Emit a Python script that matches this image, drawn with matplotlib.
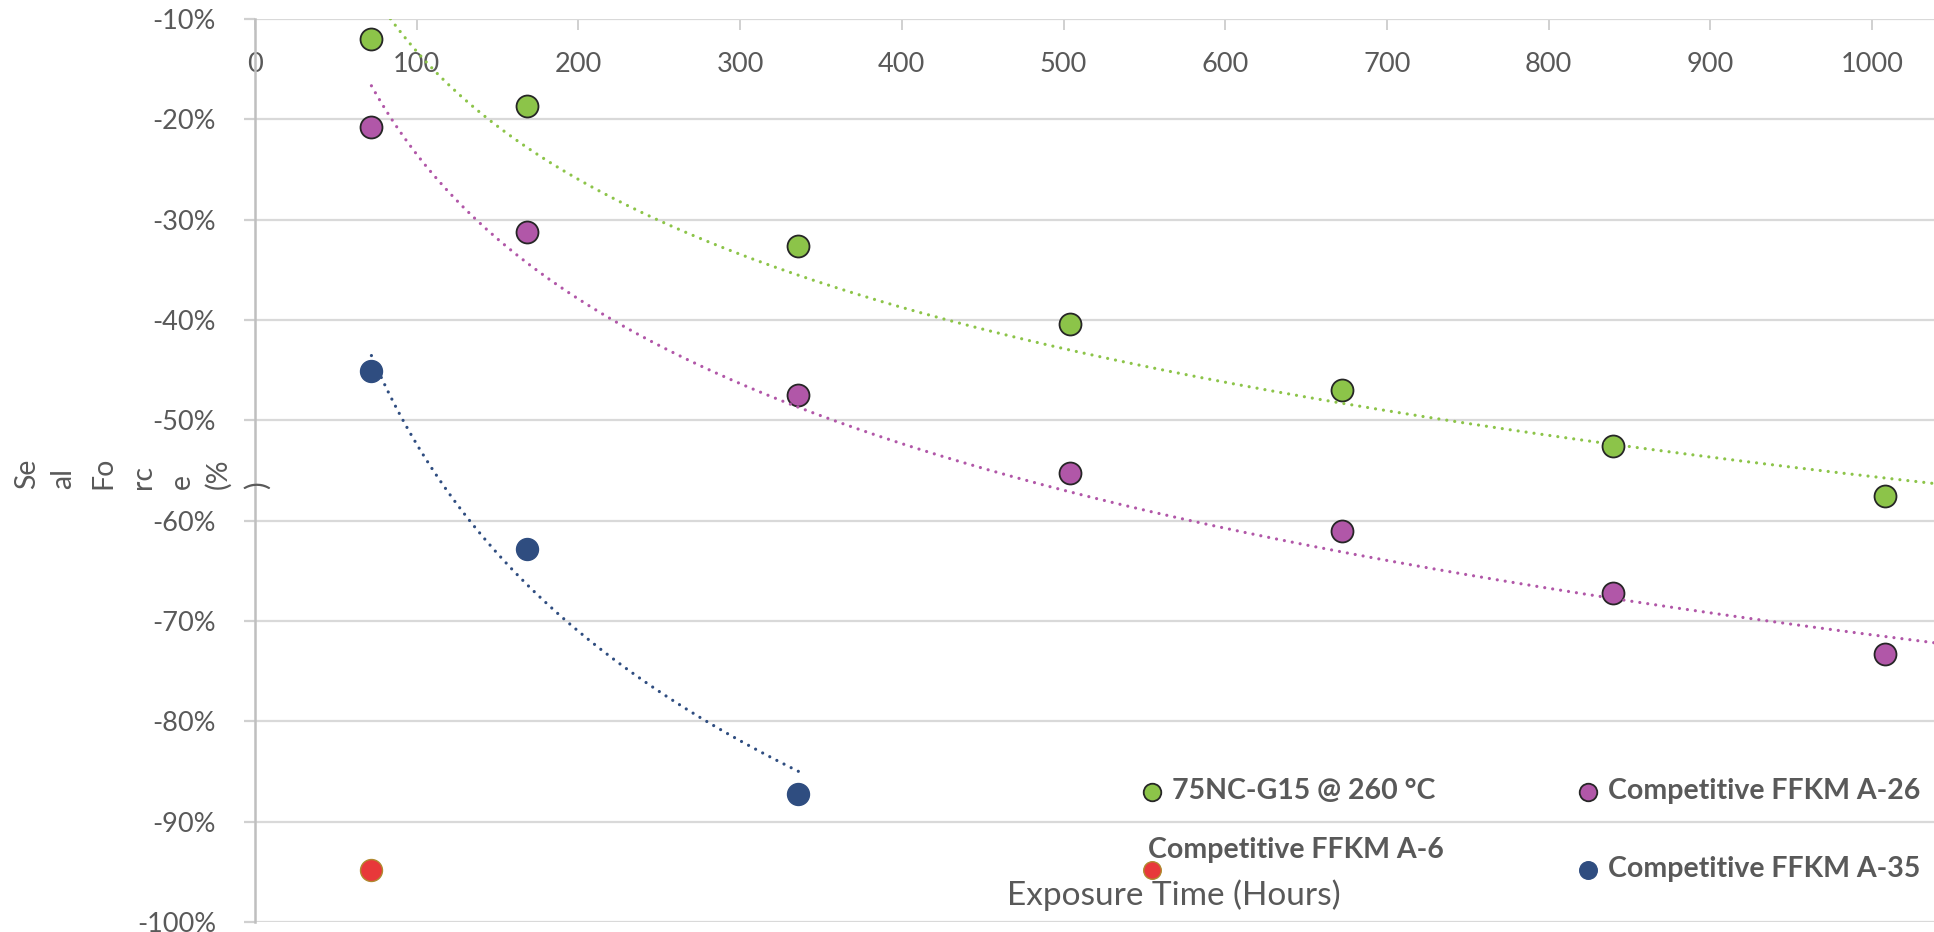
import matplotlib
matplotlib.use("Agg")
import matplotlib.pyplot as plt
import numpy as np
from matplotlib.ticker import FuncFormatter, MultipleLocator

plt.rcParams['font.family'] = ['Lato', 'DejaVu Sans']

# exposure time (hours) and seal force change (%)
hours = [72, 168, 336, 504, 672, 840, 1008]
g15 = [-12.0, -18.7, -32.6, -40.4, -47.0, -52.6, -57.5]
a26 = [-20.8, -31.2, -47.5, -55.2, -61.0, -67.2, -73.3]
hours_a35 = [72, 168, 336]
a35 = [-45.1, -62.8, -87.2]
hours_a6 = [72]
a6 = [-94.8]

# log trendlines y = a*ln(x) + b
trend_g15 = (-18.4, 71.5)
trend_a26 = (-20.8, 72.3)
trend_a35 = (-26.9, 71.5)

labels = ["75NC-G15 @ 260 °C", "Competitive FFKM A-6",
          "Competitive FFKM A-26", "Competitive FFKM A-35"]

GREEN = '#8cc449'
PURPLE = '#b157a8'
BLUE = '#2f4d80'
RED = '#e8383a'
TXT = '#595959'

W, H = 1934, 932
fig = plt.figure(figsize=(W / 100, H / 100), dpi=100)
x0, x1 = 255, 1934
y_top, y_bot = 19, 922
ax = fig.add_axes([x0 / W, (H - y_bot) / H, (x1 - x0) / W, (y_bot - y_top) / H])

xmax = (x1 - x0) / 1.617
ax.set_xlim(0, xmax)
ax.set_ylim(-100, -10)


def trend(coef, x_start, x_end):
    xs = np.linspace(x_start, x_end, 300)
    return xs, coef[0] * np.log(xs) + coef[1]


dot = dict(lw=2.3, linestyle=(0, (0.01, 2.5)), dash_capstyle='round', zorder=4)

ms = 250
h1 = ax.scatter(hours, g15, s=ms, c=GREEN, edgecolors='#262626', linewidths=1.3, zorder=3)
h3 = ax.scatter(hours, a26, s=ms, c=PURPLE, edgecolors='#262626', linewidths=1.3, zorder=3)
h4 = ax.scatter(hours_a35, a35, s=ms, c=BLUE, edgecolors=BLUE, linewidths=1, zorder=3)
h2 = ax.scatter(hours_a6, a6, s=ms, c=RED, edgecolors='#b08a30', linewidths=1, zorder=3)

xs, ys = trend(trend_g15, hours[0], xmax)
ax.plot(xs, ys, color=GREEN, **dot)
xs, ys = trend(trend_a26, hours[0], xmax)
ax.plot(xs, ys, color=PURPLE, **dot)
xs, ys = trend(trend_a35, hours_a35[0], hours_a35[-1])
ax.plot(xs, ys, color=BLUE, **dot)

# axes styling
ax.yaxis.set_major_locator(MultipleLocator(10))
ax.xaxis.set_major_locator(MultipleLocator(100))
ax.yaxis.set_major_formatter(FuncFormatter(lambda v, p: f"{v:.0f}%"))
ax.grid(axis='y', color='#d9d9d9', lw=1.6, zorder=0)
ax.set_axisbelow(True)
for s in ['right', 'bottom', 'top']:
    ax.spines[s].set_visible(False)
ax.spines['left'].set_color('#bfbfbf')
ax.spines['left'].set_linewidth(1.8)
ax.tick_params(axis='y', length=8, width=1.6, color='#d0d0d0', pad=20,
               labelsize=19.5, labelcolor=TXT)
ax.tick_params(axis='x', top=True, bottom=False, labeltop=True, labelbottom=False,
               direction='in', length=8, width=1.4, color='#d0d0d0', pad=-42,
               labelsize=19.5, labelcolor=TXT)

ax.set_xlabel("Exposure Time (Hours)", fontsize=24, color=TXT)
ax.xaxis.set_label_coords((1174 - x0) / (x1 - x0), (y_bot - 895) / (y_bot - y_top))
ax.xaxis.label.set_va('center')

# y label broken into narrow wrapped pieces
pieces = ["Se", "al", "Fo", "rc", "e", "(%", ")"]
px = [27, 63, 103, 143, 182, 218, 257]
for t, xp in zip(pieces, px):
    fig.text(xp / W, (H - 489) / H, t, rotation=90, ha='center', va='bottom',
             fontsize=20.5, color=TXT)

# legend: 2 x 2 grid
leg = ax.legend([h1, h2, h3, h4], labels, ncol=2, loc='lower left',
                bbox_to_anchor=((1116 - x0) / (x1 - x0), (y_bot - 908) / (y_bot - y_top)),
                frameon=False, markerscale=0.8, handletextpad=0.35,
                columnspacing=3.9, labelspacing=1.84, handlelength=0.7,
                prop={'weight': 'bold', 'size': 20.5})
for t in leg.get_texts():
    t.set_color(TXT)
leg.get_texts()[1].set_position((-24, 19))

fig.savefig("out.png", dpi=100)
